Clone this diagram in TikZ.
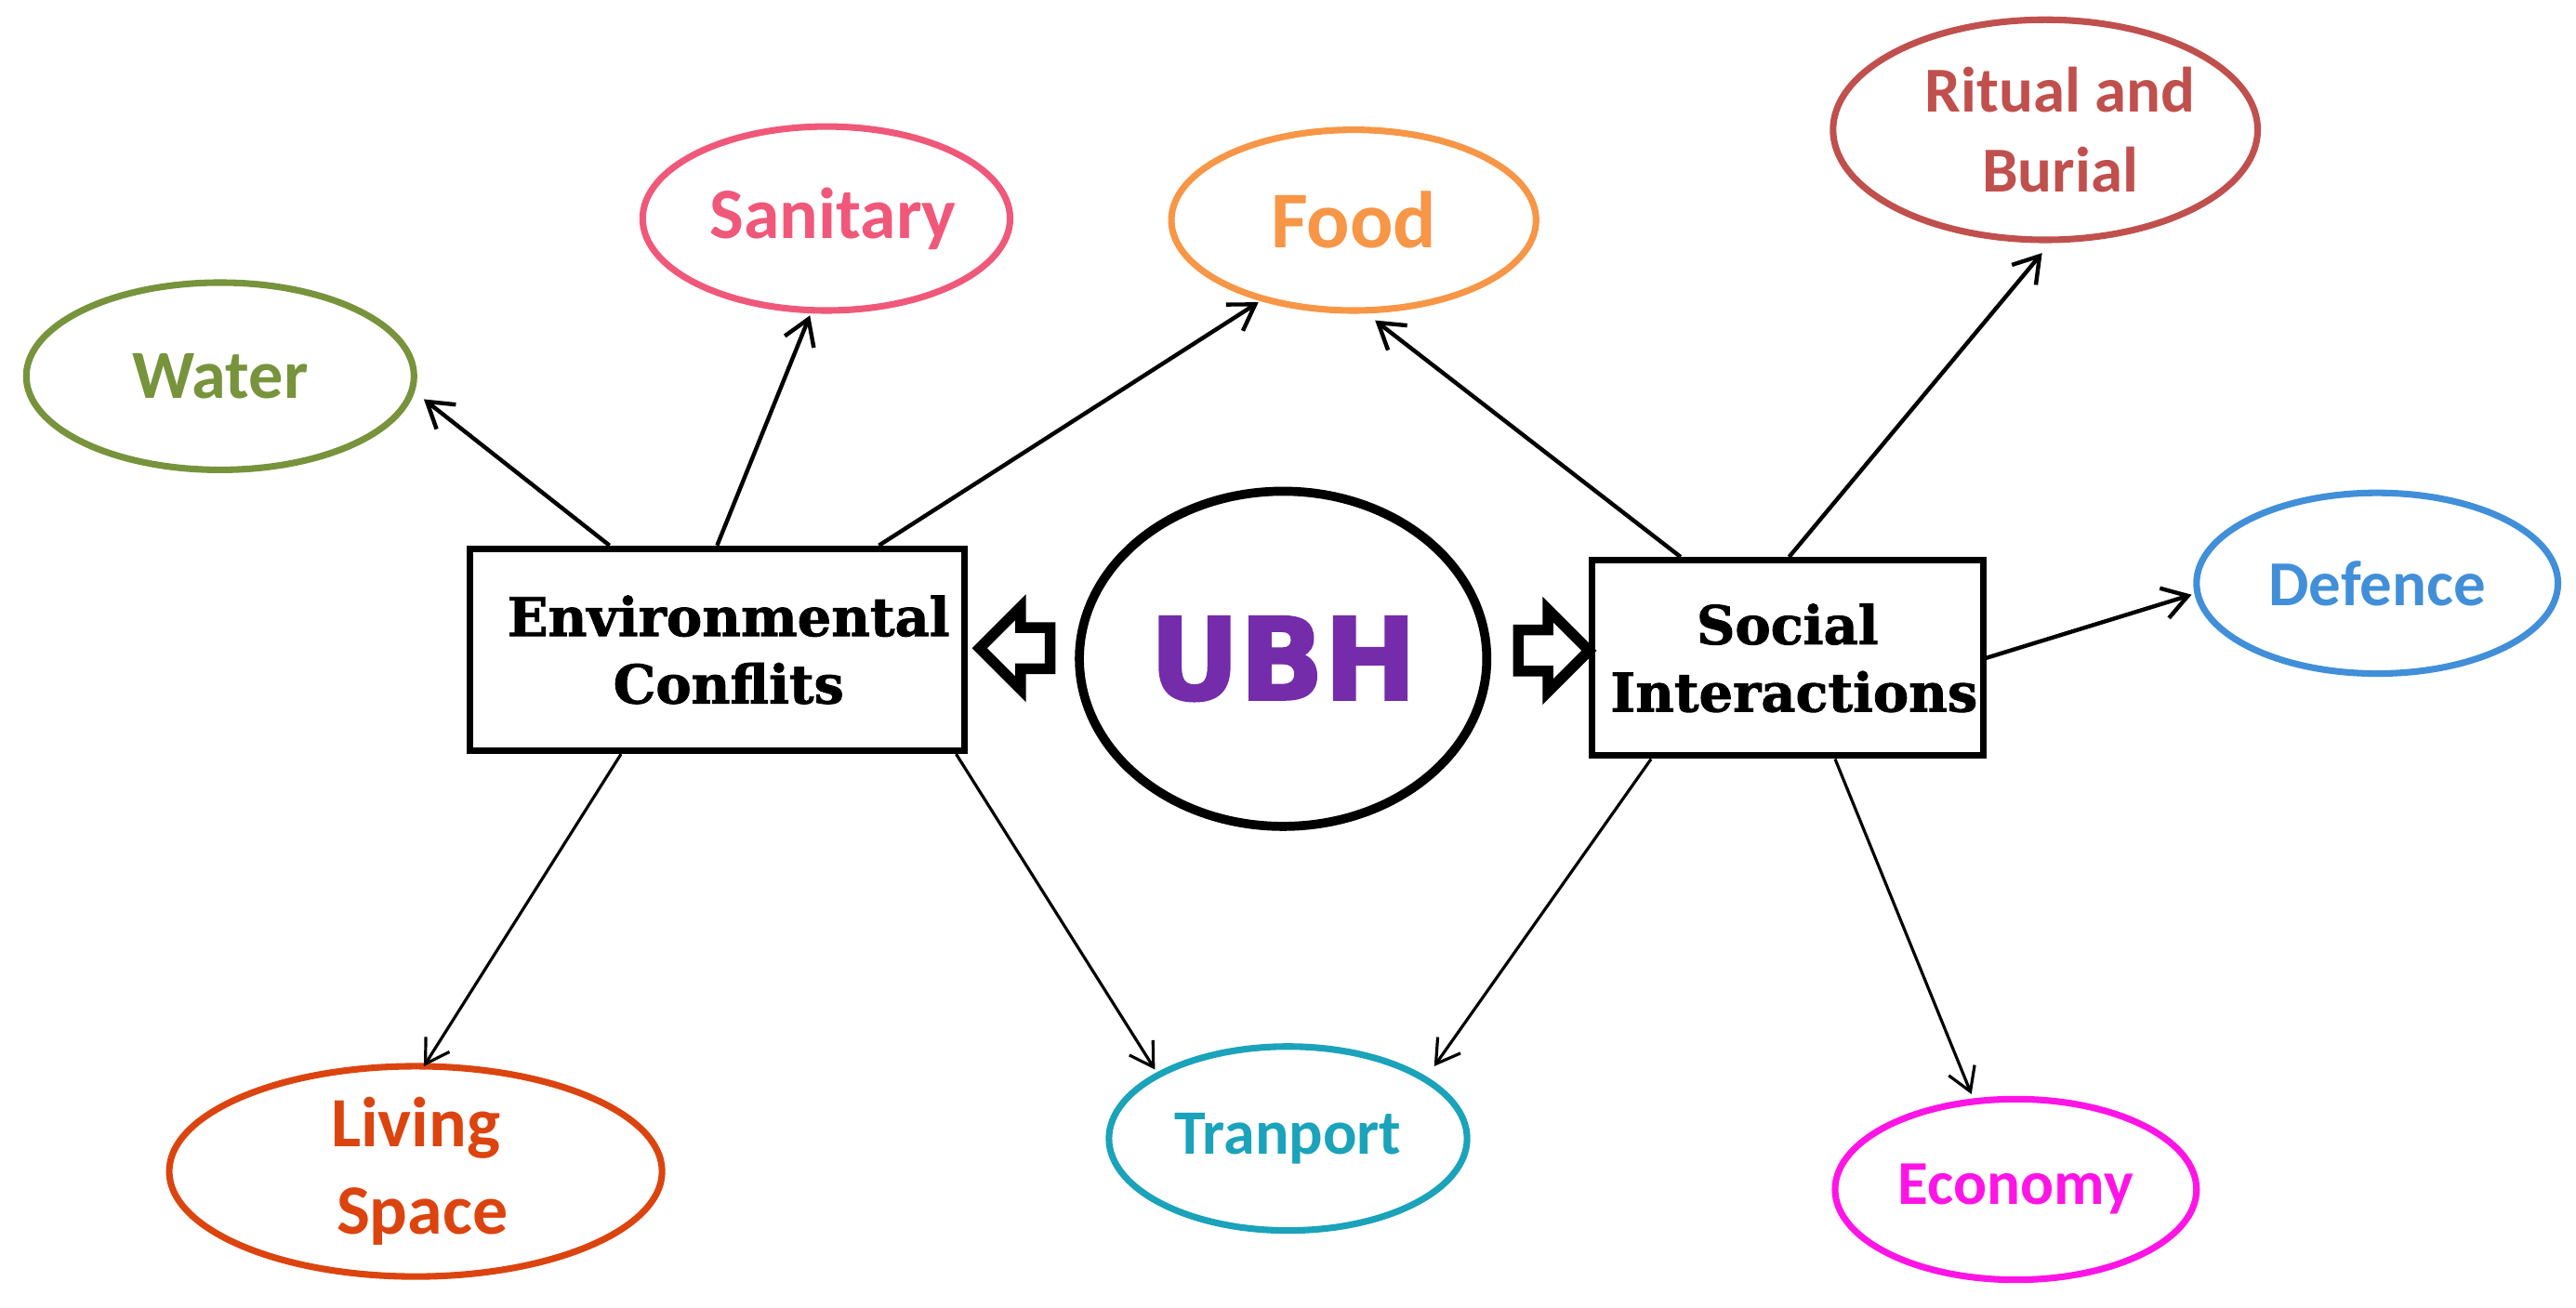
\documentclass[tikz,border=0pt]{standalone}
\usepackage{fontspec}
\setmainfont{Carlito}
\newfontfamily\boxfont[BoldFeatures={FakeBold=1.5}]{DejaVu Serif}
\newfontfamily\ubhfont[FakeStretch=0.97,BoldFeatures={FakeBold=2}]{DejaVu Sans}
\usetikzlibrary{shapes.geometric,shapes.arrows,arrows.meta}
\definecolor{cwater}{RGB}{119,147,60}
\definecolor{csan}{RGB}{240,88,122}
\definecolor{cfood}{RGB}{247,150,70}
\definecolor{crit}{RGB}{192,80,77}
\definecolor{cdef}{RGB}{65,143,217}
\definecolor{ceco}{RGB}{255,20,230}
\definecolor{ctra}{RGB}{26,163,186}
\definecolor{cliv}{RGB}{220,68,15}
\definecolor{cubh}{RGB}{116,44,170}
\tikzset{
  bub/.style={ellipse, draw, line width=4pt, inner sep=0pt, align=center},
  boxn/.style={draw, line width=4pt, inner sep=0pt, align=center,
    font=\boxfont\bfseries\fontsize{32.5}{41}\selectfont},
  blockarr/.style={single arrow, draw, fill=white, line width=6.5pt,
    minimum height=43pt, single arrow head extend=12.5pt, inner sep=9.25pt,
    single arrow head indent=0pt},
  thickconn/.style={line width=2.5pt, -{Straight Barb[length=15pt,width=19pt]}},
  thinconn/.style={line width=1.8pt, -{Straight Barb[length=14pt,width=17pt]}}
}
\begin{document}
\begin{tikzpicture}[x=1pt,y=-1pt]
\useasboundingbox (0,0) rectangle (1568,795.6);
% central
\node (ubh) [ellipse, draw, line width=5.5pt, inner sep=0pt, minimum width=248pt, minimum height=204pt,
  text=cubh, font=\ubhfont\bfseries\fontsize{69.5}{70}\selectfont] at (781,401) {UBH};
\node (env) [boxn, minimum width=301pt, minimum height=123pt] at (436.5,395.5) {\hspace*{14pt}Environmental\\\hspace*{14pt}Conflits};
\node (soc) [boxn, minimum width=238pt, minimum height=119pt] at (1088,400.5) {Social\\\hspace*{8pt}Interactions};
\node (larr) [blockarr, shape border rotate=180] at (624,394.5) {};
\node (rarr) [blockarr] at (939.5,396) {};
% outer ellipses
\node (water) [bub, draw=cwater, text=cwater, minimum width=236pt, minimum height=114pt,
  font=\bfseries\fontsize{42}{50}\selectfont] at (134,229) {Water};
\node (san) [bub, draw=csan, text=csan, minimum width=220pt, minimum height=112pt,
  font=\bfseries\fontsize{44}{50}\selectfont] at (503,133) {\hspace*{8pt}Sanitary};
\node (food) [bub, draw=cfood, text=cfood, minimum width=222pt, minimum height=110pt,
  font=\bfseries\fontsize{49}{50}\selectfont] at (824,134) {Food};
\node (rit) [bub, draw=crit, text=crit, minimum width=240pt, minimum height=134pt,
  font=\bfseries\fontsize{39}{49}\selectfont] at (1245,79) {\hspace*{18pt}Ritual and\\\hspace*{18pt}Burial};
\node (def) [bub, draw=cdef, text=cdef, minimum width=220pt, minimum height=110pt,
  font=\bfseries\fontsize{39}{49}\selectfont] at (1447,355) {Defence};
\node (eco) [bub, draw=ceco, text=ceco, minimum width=220pt, minimum height=110pt,
  font=\bfseries\fontsize{38}{49}\selectfont] at (1227,724) {Economy};
\node (tra) [bub, draw=ctra, text=ctra, minimum width=218pt, minimum height=112pt,
  font=\bfseries\fontsize{38.5}{49}\selectfont] at (784,693) {Tranport};
\node (liv) [bub, draw=cliv, text=cliv, minimum width=300pt, minimum height=128pt,
  font=\bfseries\fontsize{43}{53}\selectfont] at (253,713) {Living\\\hspace*{8pt}Space};
% connectors from Environmental Conflits
\draw[thickconn] ([xshift=-65.5pt]env.north) -- ([shift={(124,14)}]water.center);
\draw[thickconn] (env.north) -- ([shift={(-10,59)}]san.center);
\draw[thickconn] ([xshift=98.5pt]env.north) -- ([shift={(-58,50)}]food.center);
\draw[thinconn] ([xshift=-58.5pt]env.south) -- ([shift={(5,-64)}]liv.center);
\draw[thinconn] ([xshift=145.5pt]env.south) -- ([shift={(-81,-42)}]tra.center);
% connectors from Social Interactions
\draw[thickconn] ([xshift=-65pt]soc.north) -- ([shift={(13,61)}]food.center);
\draw[thickconn] ([xshift=1pt]soc.north) -- ([shift={(-2,75)}]rit.center);
\draw[thickconn] (soc.east) -- ([shift={(-113,7)}]def.center);
\draw[thinconn] ([xshift=-83pt]soc.south) -- ([shift={(89,-44)}]tra.center);
\draw[thinconn] ([xshift=29pt]soc.south) -- ([shift={(-27,-58)}]eco.center);
\end{tikzpicture}
\end{document}
